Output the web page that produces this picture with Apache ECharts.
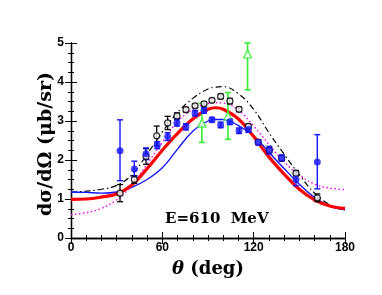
<!DOCTYPE html>
<html><head><meta charset="utf-8">
<script src="https://cdn.jsdelivr.net/npm/echarts@6/dist/echarts.min.js"></script>
<style>html,body{margin:0;padding:0;background:#fff}#c{width:382px;height:295px}</style>
</head><body><div id="c"></div>
<script>
// Theory curves (theta in deg)
const curveTheta = [0,10,20,30,40,50,60,70,80,90,95,100,110,120,130,140,150,160,170,180];
const redCurve   = [0.99,1.00,1.05,1.13,1.36,1.78,2.25,2.68,3.05,3.30,3.34,3.30,3.05,2.60,2.08,1.64,1.25,0.98,0.82,0.76];
const blueCurve  = [1.18,1.17,1.15,1.18,1.30,1.50,1.80,2.28,2.74,3.00,3.04,3.04,2.88,2.62,2.20,1.78,1.38,1.04,0.82,0.72];
const dashCurve  = [1.18,1.20,1.25,1.35,1.62,2.15,2.72,3.22,3.58,3.82,3.87,3.88,3.70,3.30,2.70,2.15,1.62,1.15,0.85,0.72];
const magCurve   = [0.60,0.65,0.76,0.98,1.35,1.90,2.45,2.98,3.30,3.45,3.47,3.46,3.28,2.87,2.40,1.95,1.62,1.38,1.28,1.24];

// Data: blue filled circles
const blueTheta = [32.2,41.6,49.3,56.7,63.5,69.6,75.5,81.5,87.4,92.6,98.3,104.4,110.4,116.5,123,130.3,138.4,147.8,161.8];
const blueVal   = [2.24,1.77,2.16,2.38,2.60,2.95,2.85,3.20,3.27,3.03,2.90,2.98,2.75,2.78,2.45,2.25,2.05,1.50,1.95];
const blueLo    = [1.47,1.58,2.01,2.29,2.50,2.87,2.77,3.13,3.20,2.97,2.83,2.91,2.68,2.71,2.39,2.15,1.97,1.34,1.26];
const blueHi    = [3.03,1.97,2.31,2.47,2.70,3.03,2.93,3.27,3.34,3.09,2.97,3.05,2.82,2.85,2.51,2.35,2.13,1.66,2.65];

// Data: black open circles
const blackTheta = [32.2,41.6,49.3,56.3,63.5,69.6,75.5,81.5,87.4,92.6,98.3,104.4,110.4,116.5,123,130.3,138.4,147.8,161.8];
const blackVal   = [1.15,1.50,2.09,2.62,2.95,3.13,3.29,3.39,3.44,3.53,3.63,3.51,3.30,2.86,2.46,2.25,2.05,1.66,1.03];
const blackLo    = [0.93,1.40,1.89,2.37,2.78,3.05,3.23,3.34,3.39,3.48,3.57,3.44,3.24,2.80,2.40,2.19,1.99,1.59,0.93];
const blackHi    = [1.37,1.60,2.29,2.87,3.12,3.21,3.35,3.44,3.49,3.58,3.69,3.58,3.36,2.92,2.52,2.31,2.11,1.73,1.13];

// Data: green open triangles
const greenTheta = [86.0,103.1,116.0];
const greenVal   = [2.95,3.13,4.72];
const greenLo    = [2.45,2.53,3.80];
const greenHi    = [3.45,3.73,5.00];

const xTicks = [0,60,120,180];
const yTicks = [0,1,2,3,4,5];

function zip(xs, ys){ return xs.map((x,i)=>[x,ys[i]]); }
function errData(xs, lo, hi){ return xs.map((x,i)=>[x,lo[i],hi[i]]); }

function errSeries(xs, lo, hi, color, w){
  return {
    type:'custom', z:5, silent:true,
    data: errData(xs,lo,hi),
    renderItem:function(params, api){
      const x=api.value(0), l=api.value(1), h=api.value(2);
      const p1=api.coord([x,l]), p2=api.coord([x,h]);
      const c=3;
      const st={stroke:color, lineWidth:w};
      return {type:'group', children:[
        {type:'line', shape:{x1:p1[0],y1:p1[1],x2:p2[0],y2:p2[1]}, style:st},
        {type:'line', shape:{x1:p1[0]-c,y1:p1[1],x2:p1[0]+c,y2:p1[1]}, style:st},
        {type:'line', shape:{x1:p2[0]-c,y1:p2[1],x2:p2[0]+c,y2:p2[1]}, style:st}
      ]};
    }
  };
}

const chart = echarts.init(document.getElementById('c'), null, {renderer:'canvas'});
const tickFont = {fontFamily:'Liberation Sans', fontWeight:'bold', fontSize:12, color:'#000'};
const axLine = {lineStyle:{color:'#000', width:1.3}};
chart.setOption({
  animation:false,
  backgroundColor:'#fff',
  grid:{left:71, top:43, width:274, height:195},
  xAxis:[{
    type:'value', min:0, max:180, interval:60,
    axisLine:axLine,
    axisTick:{inside:true, length:6, lineStyle:{color:'#000', width:1}},
    minorTick:{show:true, splitNumber:6, length:3, lineStyle:{color:'#000', width:1}},
    splitLine:{show:false},
    axisLabel:Object.assign({margin:4, formatter:v=>xTicks.includes(v)?String(v):''}, tickFont),
    name:'{i|θ}{b| (deg)}', nameLocation:'middle', nameGap:22,
    nameTextStyle:{rich:{
      i:{fontFamily:'DejaVu Serif', fontStyle:'italic', fontWeight:'bold', fontSize:18, color:'#000'},
      b:{fontFamily:'DejaVu Serif', fontWeight:'bold', fontSize:18, color:'#000'}
    }}
  },{
    type:'value', min:0, max:180, interval:60, position:'top',
    axisLine:axLine,
    axisTick:{inside:true, length:6, lineStyle:{color:'#000', width:1}},
    minorTick:{show:true, splitNumber:6, length:3, lineStyle:{color:'#000', width:1}},
    splitLine:{show:false}, axisLabel:{show:false}
  }],
  yAxis:[{
    type:'value', min:0, max:5, interval:1,
    axisLine:axLine,
    axisTick:{inside:true, length:6, lineStyle:{color:'#000', width:1}},
    minorTick:{show:true, splitNumber:4, length:3, lineStyle:{color:'#000', width:1}},
    splitLine:{show:false},
    axisLabel:Object.assign({margin:7, formatter:v=>yTicks.includes(v)?String(v):''}, tickFont)
  },{
    type:'value', min:0, max:5, interval:1, position:'right',
    axisLine:axLine,
    axisTick:{inside:true, length:6, lineStyle:{color:'#000', width:1}},
    minorTick:{show:true, splitNumber:4, length:3, lineStyle:{color:'#000', width:1}},
    splitLine:{show:false}, axisLabel:{show:false}
  }],
  graphic:[{
    type:'text', x:46, y:144, rotation:Math.PI/2,
    style:{text:'dσ/dΩ (μb/sr)', font:'bold 19px "DejaVu Serif"', fill:'#000', align:'center', verticalAlign:'middle'}
  },{
    type:'text', left:165, top:212,
    style:{text:'E=610  MeV', font:'bold 15px "DejaVu Serif"', fill:'#000'}
  }],
  series:[
    {type:'line', data:zip(curveTheta,magCurve), smooth:0.4, showSymbol:false, z:2,
     lineStyle:{color:'#ff00ff', width:1.4, type:[1.5,2.5]}},
    {type:'line', data:zip(curveTheta,dashCurve), smooth:0.4, showSymbol:false, z:2,
     lineStyle:{color:'#000', width:1.2, type:[6,3,1.5,3]}},
    {type:'line', data:zip(curveTheta,blueCurve), smooth:0.4, showSymbol:false, z:2,
     lineStyle:{color:'#1515ff', width:1.4}},
    {type:'line', data:zip(curveTheta,redCurve), smooth:0.4, showSymbol:false, z:3,
     lineStyle:{color:'#ff0000', width:3.2}},
    errSeries(greenTheta, greenLo, greenHi, '#33ee33', 1.6),
    errSeries(blackTheta, blackLo, blackHi, '#000', 1.3),
    errSeries(blueTheta, blueLo, blueHi, '#1515ff', 1.4),
    {type:'scatter', data:zip(greenTheta,greenVal), symbol:'triangle', symbolSize:8, z:6,
     itemStyle:{color:'#fff', borderColor:'#33ee33', borderWidth:1.4}},
    {type:'scatter', data:zip(blackTheta,blackVal), symbol:'circle', symbolSize:6, z:6,
     itemStyle:{color:'#fff', borderColor:'#000', borderWidth:1.3}},
    {type:'scatter', data:zip(blueTheta,blueVal), symbol:'circle', symbolSize:7, z:7,
     itemStyle:{color:'#1515ff'}}
  ]
});
</script></body></html>
